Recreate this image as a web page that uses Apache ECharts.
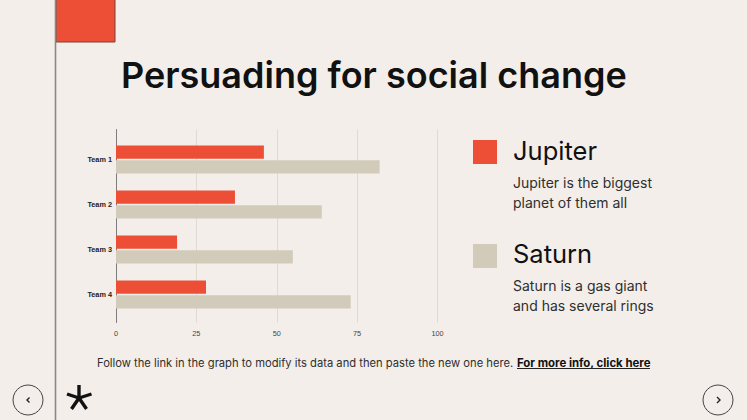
<!DOCTYPE html>
<html><head><meta charset="utf-8">
<style>html,body{margin:0;padding:0;background:#f3eeea;overflow:hidden}#c{width:747px;height:420px}</style>
<script src="https://cdn.jsdelivr.net/npm/echarts@6/dist/echarts.min.js"></script>
</head><body><div id="c"></div>
<script>
const categories = ['Team 1','Team 2','Team 3','Team 4'];
const jupiterValues = [46,37,19,28];
const saturnValues = [82,64,55,73];
const xTicks = [0,25,50,75,100];
const titleText = 'Persuading for social change';
const footerText = 'Follow the link in the graph to modify its data and then paste the new one here.';
const footerLink = 'For more info, click here';
const RED='#ec4f35', SAND='#d2cbb9', INK='#111111', BODY='#2f2f2f', FONT='Inter', BFONT='Inter';
const chart = echarts.init(document.getElementById('c'),null,{renderer:'svg'});
function txt(x,y,text,size,weight,fill,family,extra){
  return Object.assign({type:'text',x,y,style:{text,font:`${weight} ${size}px ${family||BFONT}`,fill,textVerticalAlign:'middle'},silent:true},extra||{});
}
function line(x1,y1,x2,y2,stroke,w){return {type:'line',shape:{x1,y1,x2,y2},style:{stroke,lineWidth:w,lineCap:'butt'},silent:true};}
const star=[[79,398,79,385],[79,398,67,394],[79,398,91.5,394],[79,398,71.5,409],[79,398,86.5,409]];
chart.setOption({
  animation:false,
  backgroundColor:'#f3eeea',
  grid:[
    {left:116,width:321.5,top:129.5,height:193,show:false},
    {left:116,width:321.5,top:137,height:180,show:false}
  ],
  xAxis:[
    {gridIndex:0,type:'value',min:0,max:100,interval:25,
      axisLine:{show:false},axisTick:{show:false},
      axisLabel:{fontSize:7.3,color:'#444',fontFamily:'Liberation Sans',margin:7,
        customValues:xTicks},
      splitLine:{show:true,lineStyle:{color:'#dfdad4',width:1}}},
    {gridIndex:1,type:'value',min:0,max:100,show:false}
  ],
  yAxis:[
    {gridIndex:0,type:'value',min:0,max:1,axisLine:{show:true,onZero:false,lineStyle:{color:'#7d7d7d',width:1}},
      axisTick:{show:false},axisLabel:{show:false},splitLine:{show:false}},
    {gridIndex:1,type:'category',data:categories,inverse:true,
      axisLine:{show:false},axisTick:{show:false},
      axisLabel:{fontSize:7.3,fontWeight:'bold',color:'#222',fontFamily:'Liberation Sans',margin:4}}
  ],
  series:[
    {name:'Jupiter',type:'bar',xAxisIndex:1,yAxisIndex:1,data:jupiterValues,barWidth:13.3,barGap:'10%',itemStyle:{color:RED}},
    {name:'Saturn',type:'bar',xAxisIndex:1,yAxisIndex:1,data:saturnValues,barWidth:13.3,barGap:'10%',itemStyle:{color:SAND}}
  ],
  graphic:{elements:[
    {type:'rect',shape:{x:56,y:-2,width:59,height:44},style:{fill:RED,stroke:'#7a4238',lineWidth:1},silent:true},
    line(55.5,0,55.5,420,'#8a8785',1.6),
    txt(121,75,titleText,36,600,INK,FONT),
    {type:'rect',shape:{x:473,y:140,width:24,height:24},style:{fill:RED},silent:true},
    {type:'rect',shape:{x:473,y:244,width:24,height:24},style:{fill:SAND},silent:true},
    txt(513,150,'Jupiter',25.5,400,INK),
    txt(513,182.5,'Jupiter is the biggest',14,400,BODY),
    txt(513,202.5,'planet of them all',14,400,BODY),
    txt(513,253,'Saturn',25.5,400,INK),
    txt(513,285.5,'Saturn is a gas giant',14,400,BODY),
    txt(513,305.5,'and has several rings',14,400,BODY),
    txt(97,362.5,footerText,11.2,400,BODY),
    txt(517,362.5,footerLink,11.4,700,INK),
    line(517,368.5,650,368.5,'#222',1),
    {type:'circle',shape:{cx:28,cy:400,r:15},style:{fill:'none',stroke:'#444',lineWidth:1},silent:true},
    {type:'circle',shape:{cx:718,cy:400,r:15},style:{fill:'none',stroke:'#444',lineWidth:1},silent:true},
    {type:'polyline',shape:{points:[[29.5,397.5],[27,400],[29.5,402.5]]},style:{fill:'none',stroke:'#222',lineWidth:1.4},silent:true},
    {type:'polyline',shape:{points:[[717,397],[720,400],[717,403]]},style:{fill:'none',stroke:'#222',lineWidth:1.4},silent:true},
    ...star.map(s=>line(s[0],s[1],s[2],s[3],'#111',3.4))
  ]}
});
</script></body></html>
